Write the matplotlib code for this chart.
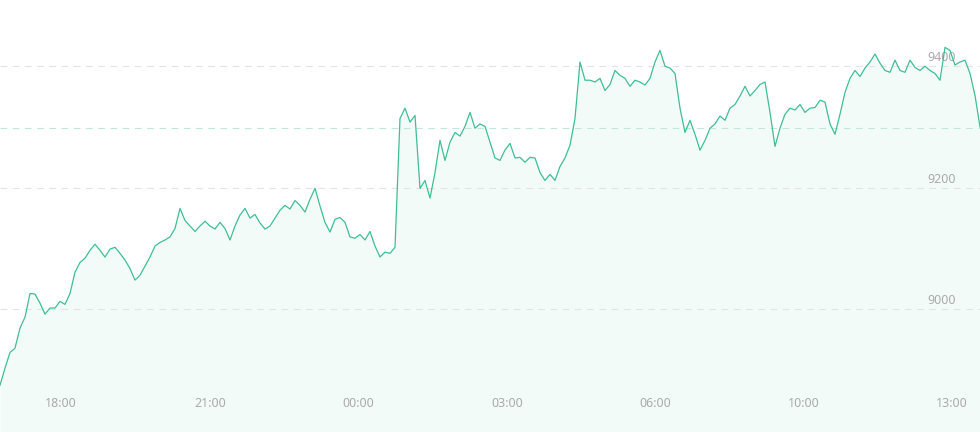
import matplotlib.pyplot as plt
import numpy as np

# price series (category axis, evenly spaced samples)
prices = [
    8875, 8903, 8929, 8936, 8969, 8987, 9026, 9025, 9010, 8992,
    9002, 9002, 9013, 9008, 9026, 9061, 9077, 9084, 9097, 9107,
    9097, 9086, 9099, 9102, 9092, 9081, 9067, 9048, 9056, 9071,
    9086, 9104, 9110, 9114, 9119, 9133, 9166, 9146, 9137, 9128,
    9137, 9145, 9137, 9132, 9143, 9133, 9114, 9137, 9155, 9166,
    9150, 9156, 9142, 9132, 9137, 9150, 9163, 9171, 9165, 9179,
    9171, 9160, 9181, 9199, 9170, 9143, 9127, 9148, 9151, 9143,
    9119, 9117, 9123, 9114, 9128, 9104, 9086, 9094, 9092, 9102,
    9314, 9331, 9308, 9319, 9199, 9212, 9183, 9225, 9278, 9245,
    9275, 9291, 9285, 9301, 9324, 9298, 9305, 9301, 9275, 9249,
    9245, 9262, 9273, 9249, 9250, 9242, 9250, 9249, 9225, 9212,
    9222, 9212, 9235, 9249, 9270, 9314, 9407, 9377, 9377, 9374,
    9380, 9360, 9370, 9393, 9385, 9380, 9367, 9377, 9374, 9369,
    9380, 9407, 9426, 9400, 9397, 9388, 9331, 9291, 9311, 9288,
    9262, 9278, 9298, 9305, 9318, 9311, 9331, 9337, 9351, 9367,
    9351, 9360, 9370, 9374, 9324, 9268, 9298, 9321, 9331, 9328,
    9337, 9324, 9331, 9332, 9344, 9341, 9305, 9288, 9321, 9357,
    9380, 9393, 9383, 9397, 9407, 9420, 9405, 9393, 9390, 9410,
    9393, 9390, 9410, 9398, 9393, 9400, 9393, 9388, 9377, 9431,
    9426, 9402, 9407, 9410, 9388, 9352, 9300,
]
time_labels = ["18:00", "21:00", "00:00", "03:00", "06:00", "10:00", "13:00"]
time_idx = [12.2, 42, 71.6, 101.4, 131, 160.8, 190.4]
y_labels = [9000, 9200, 9400]
ref_price = 9298

x = np.arange(len(prices))
y_min, y_max = 8798, 9509

fig = plt.figure(figsize=(9.8, 4.32), dpi=100)
ax = fig.add_axes([0, 0, 1, 1])

for v in y_labels:
    ax.axhline(v, color="#e3e3e3", lw=0.8, ls=(0, (6, 5)), zorder=1)
    ax.annotate(str(v), xy=(1, v), xycoords=("axes fraction", "data"),
                xytext=(-17.5, 1.5), textcoords="offset points",
                ha="right", va="bottom", fontsize=9, color="#aaaaaa",
                family="Noto Sans")
ax.axhline(ref_price, color="#bfe8da", lw=0.8, ls=(0, (6, 5)), zorder=1)

ax.fill_between(x, prices, y_min, color="#f3fbf8", lw=0, zorder=0)
ax.plot(x, prices, color="#3dbf93", lw=0.9, zorder=3)

for i, lab in zip(time_idx, time_labels):
    ax.text(i, 0.065, lab, transform=ax.get_xaxis_transform(),
            ha="center", va="center", fontsize=9, color="#aaaaaa",
            family="Noto Sans")

ax.set_xlim(0, len(prices) - 1)
ax.set_ylim(y_min, y_max)
ax.axis("off")

fig.savefig("out.png", dpi=100)
